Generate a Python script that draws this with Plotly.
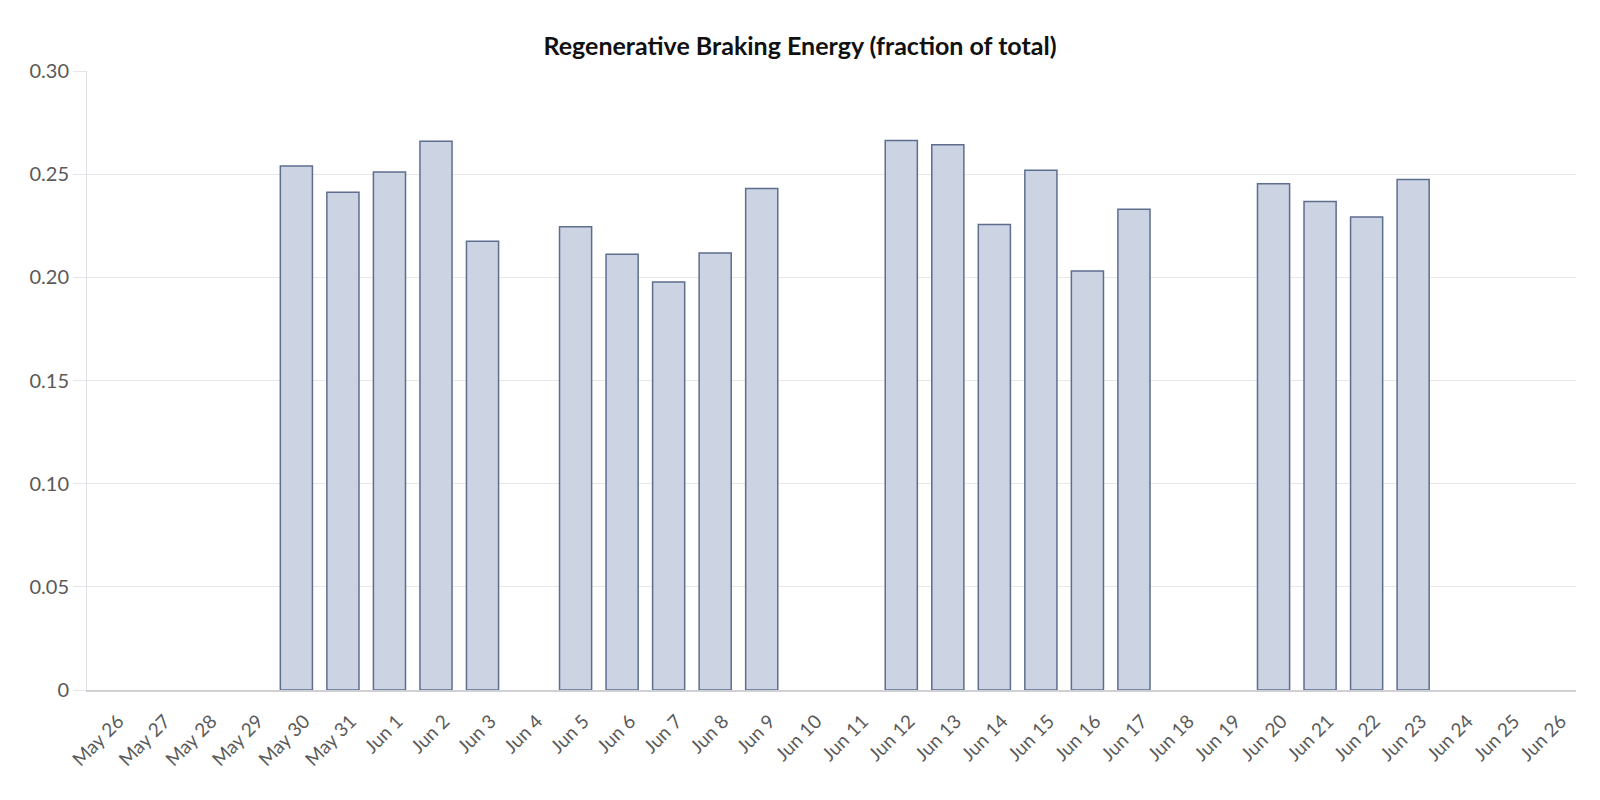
import plotly.graph_objects as go

categories = ["May 26", "May 27", "May 28", "May 29", "May 30", "May 31",
              "Jun 1", "Jun 2", "Jun 3", "Jun 4", "Jun 5", "Jun 6", "Jun 7", "Jun 8",
              "Jun 9", "Jun 10", "Jun 11", "Jun 12", "Jun 13", "Jun 14", "Jun 15",
              "Jun 16", "Jun 17", "Jun 18", "Jun 19", "Jun 20", "Jun 21", "Jun 22",
              "Jun 23", "Jun 24", "Jun 25", "Jun 26"]

regen_fraction = [None, None, None, None, 0.2540, 0.2412,
                  0.2510, 0.2660, 0.2175, None, 0.2245, 0.2112, 0.1977, 0.2118,
                  0.2430, None, None, 0.2663, 0.2642, 0.2256, 0.2519,
                  0.2031, 0.2330, None, None, 0.2454, 0.2367, 0.2293,
                  0.2474, None, None, None]

y_tickvals = [0, 0.05, 0.10, 0.15, 0.20, 0.25, 0.30]
y_ticktext = ["0", "0.05", "0.10", "0.15", "0.20", "0.25", "0.30"]

title_text = "Regenerative Braking Energy (fraction of total)"

FONT = "Lato"

fig = go.Figure()
fig.add_trace(go.Bar(
    x=categories,
    y=regen_fraction,
    marker=dict(color="#ccd4e4", line=dict(color="#5d6e8e", width=1.5)),
    hoverinfo="x+y",
))

fig.update_layout(
    width=1600,
    height=800,
    margin=dict(l=79, r=32, t=63, b=118, pad=0),
    paper_bgcolor="white",
    plot_bgcolor="white",
    bargap=0.31,
    showlegend=False,
    font=dict(family=FONT, size=19, color="#5a5a5a"),
    title=dict(
        text="<b>" + title_text + "</b>",
        x=0.495, xref="container", xanchor="center",
        y=1 - 38 / 800, yref="container", yanchor="middle",
        font=dict(family=FONT, size=25, color="#111111"),
    ),
    xaxis=dict(
        type="category",
        categoryorder="array",
        categoryarray=categories,
        tickangle=-45,
        showgrid=False,
        showline=True,
        linecolor="#cfcfd4",
        linewidth=1.5,
        ticks="",
        ticklabelstandoff=11,
        ticklabelshift=8,
        tickfont=dict(family=FONT, size=19, color="#5a5a5a"),
        fixedrange=True,
    ),
    yaxis=dict(
        range=[0, 0.30],
        tickvals=y_tickvals,
        ticktext=y_ticktext,
        showgrid=True,
        gridcolor="#e6e6ec",
        gridwidth=1,
        showline=True,
        linecolor="#e0e0e6",
        linewidth=1,
        ticks="outside",
        ticklen=13,
        tickcolor="#e6e6ec",
        zeroline=False,
        tickfont=dict(family=FONT, size=20, color="#5a5a5a"),
        fixedrange=True,
    ),
)

fig.write_html("out.html")
